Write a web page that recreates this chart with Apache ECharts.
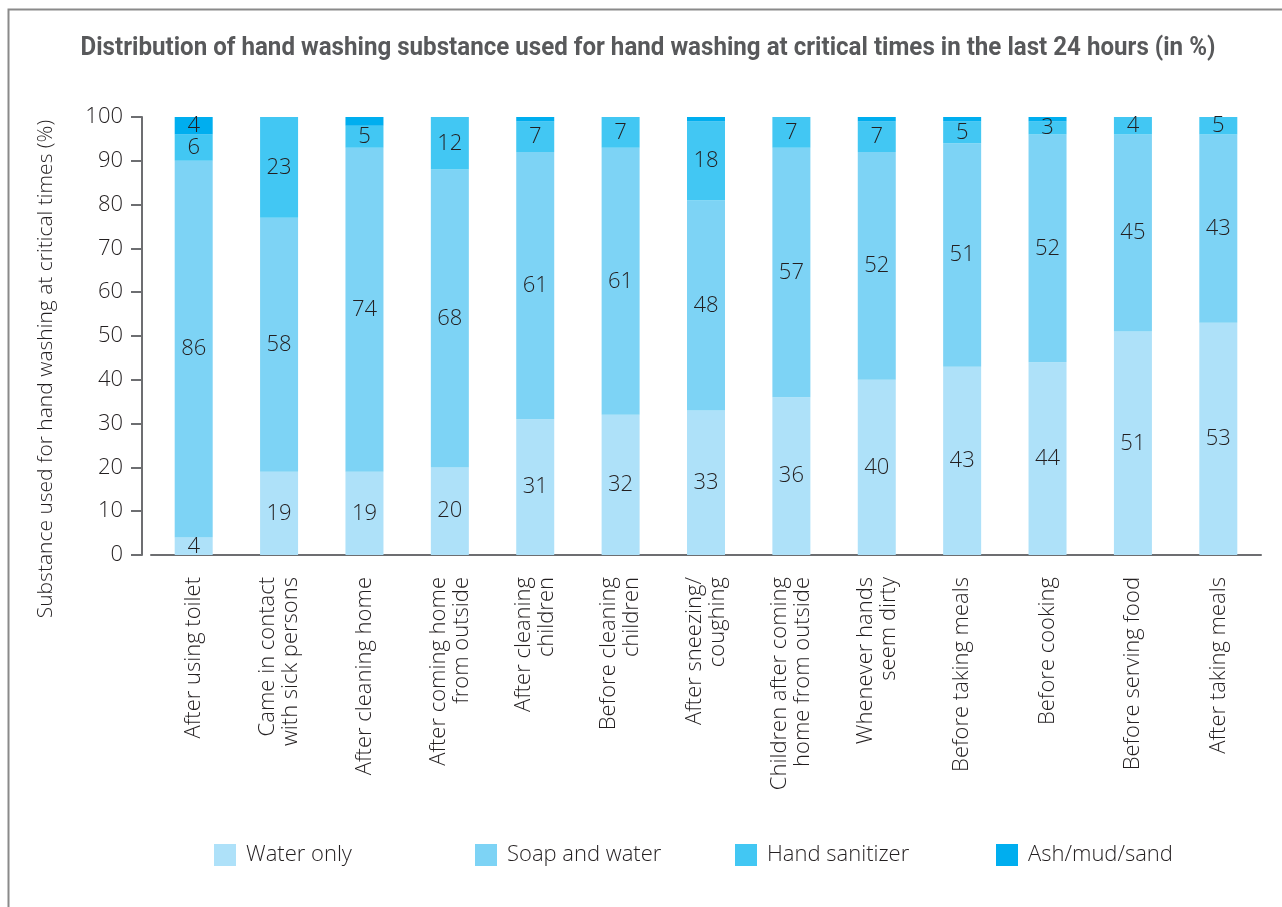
<!DOCTYPE html>
<html>
<head>
<meta charset="utf-8">
<script src="https://cdn.jsdelivr.net/npm/echarts@6/dist/echarts.min.js"></script>
<style>html,body{margin:0;padding:0;background:#fff}#c{width:1282px;height:907px}</style>
</head>
<body>
<div id="c"></div>
<script>
var categories = [
  "After using toilet",
  "Came in contact\nwith sick persons",
  "After cleaning home",
  "After coming home\nfrom outside",
  "After cleaning\nchildren",
  "Before cleaning\nchildren",
  "After sneezing/\ncoughing",
  "Children after coming\nhome from outside",
  "Whenever hands\nseem dirty",
  "Before taking meals",
  "Before cooking",
  "Before serving food",
  "After taking meals"
];
var waterOnly     = [4, 19, 19, 20, 31, 32, 33, 36, 40, 43, 44, 51, 53];
var soapAndWater  = [86, 58, 74, 68, 61, 61, 48, 57, 52, 51, 52, 45, 43];
var handSanitizer = [6, 23, 5, 12, 7, 7, 18, 7, 7, 5, 3, 4, 5];
var ashMudSand    = [4, 0, 2, 0, 1, 0, 1, 0, 1, 1, 1, 0, 0];
var yTicks = [0, 10, 20, 30, 40, 50, 60, 70, 80, 90, 100];
var seriesNames = ["Water only", "Soap and water", "Hand sanitizer", "Ash/mud/sand"];
var colors = ["#aee1f9", "#7dd3f5", "#42c7f3", "#00aeef"];

var FONT = "'Open Sans', Roboto, 'Liberation Sans', sans-serif";
var FS = 22;
var chart = echarts.init(document.getElementById('c'), null, {renderer: 'canvas'});

function mkSeries(name, data, color, minLabel) {
  return {
    name: name, type: 'bar', stack: 'total', data: data, barWidth: 38,
    itemStyle: {color: color},
    label: {
      show: true, position: 'inside', color: '#231f20',
      fontFamily: FONT, fontWeight: 300, fontSize: FS,
      formatter: function (p) { return p.value >= minLabel ? String(p.value) : ''; }
    }
  };
}

var legendLefts = [214, 475, 735, 996];
var legends = seriesNames.map(function (n, i) {
  return {
    data: [n], left: legendLefts[i], top: 844, icon: 'rect', padding: 0,
    itemWidth: 22, itemHeight: 22, selectedMode: false,
    textStyle: {fontFamily: FONT, fontWeight: 300, fontSize: FS, color: '#231f20', padding: [0, 0, 0, 5]}
  };
});

chart.setOption({
  animation: false,
  color: colors,
  legend: legends,
  grid: {left: 151, right: 21, top: 117, bottom: 352, containLabel: false},
  xAxis: {
    type: 'category', data: categories,
    axisLine: {lineStyle: {color: '#6d6e71', width: 2}},
    axisTick: {show: false},
    axisLabel: {
      rotate: 90, interval: 0, margin: 22, color: '#231f20',
      fontFamily: FONT, fontWeight: 300, fontSize: FS, lineHeight: 23
    }
  },
  yAxis: {
    type: 'value', min: 0, max: 100, interval: 10, offset: 9,
    axisLine: {show: true, lineStyle: {color: '#6d6e71', width: 2}},
    axisTick: {show: true, length: 11, lineStyle: {color: '#6d6e71', width: 2}},
    splitLine: {show: false},
    axisLabel: {
      margin: 19, color: '#231f20', fontFamily: FONT, fontWeight: 300, fontSize: FS,
      formatter: function (v) { return yTicks.indexOf(v) >= 0 ? String(v) : ''; }
    }
  },
  series: [
    mkSeries(seriesNames[0], waterOnly, colors[0], 1),
    mkSeries(seriesNames[1], soapAndWater, colors[1], 1),
    mkSeries(seriesNames[2], handSanitizer, colors[2], 1),
    mkSeries(seriesNames[3], ashMudSand, colors[3], 3)
  ],
  graphic: [
    {type: 'rect', left: 6, top: 7, shape: {width: 1400, height: 1000},
     style: {fill: 'none', stroke: '#8a8a8a', lineWidth: 2}, silent: true},
    {type: 'text', x: 648, y: 48, scaleX: 0.928,
     style: {text: 'Distribution of hand washing substance used for hand washing at critical times in the last 24 hours (in %)',
       x: 0, y: 0, align: 'center', verticalAlign: 'middle',
       font: "bold 26px Roboto, 'Liberation Sans', sans-serif", fill: '#58595b'}},
    {type: 'text', x: 46, y: 369, rotation: Math.PI / 2,
     style: {text: 'Substance used for hand washing at critical times (%)',
       x: 0, y: 0, align: 'center', verticalAlign: 'middle',
       font: "300 21px 'Open Sans', Roboto, 'Liberation Sans', sans-serif", fill: '#231f20'}}
  ]
});
</script>
</body>
</html>
